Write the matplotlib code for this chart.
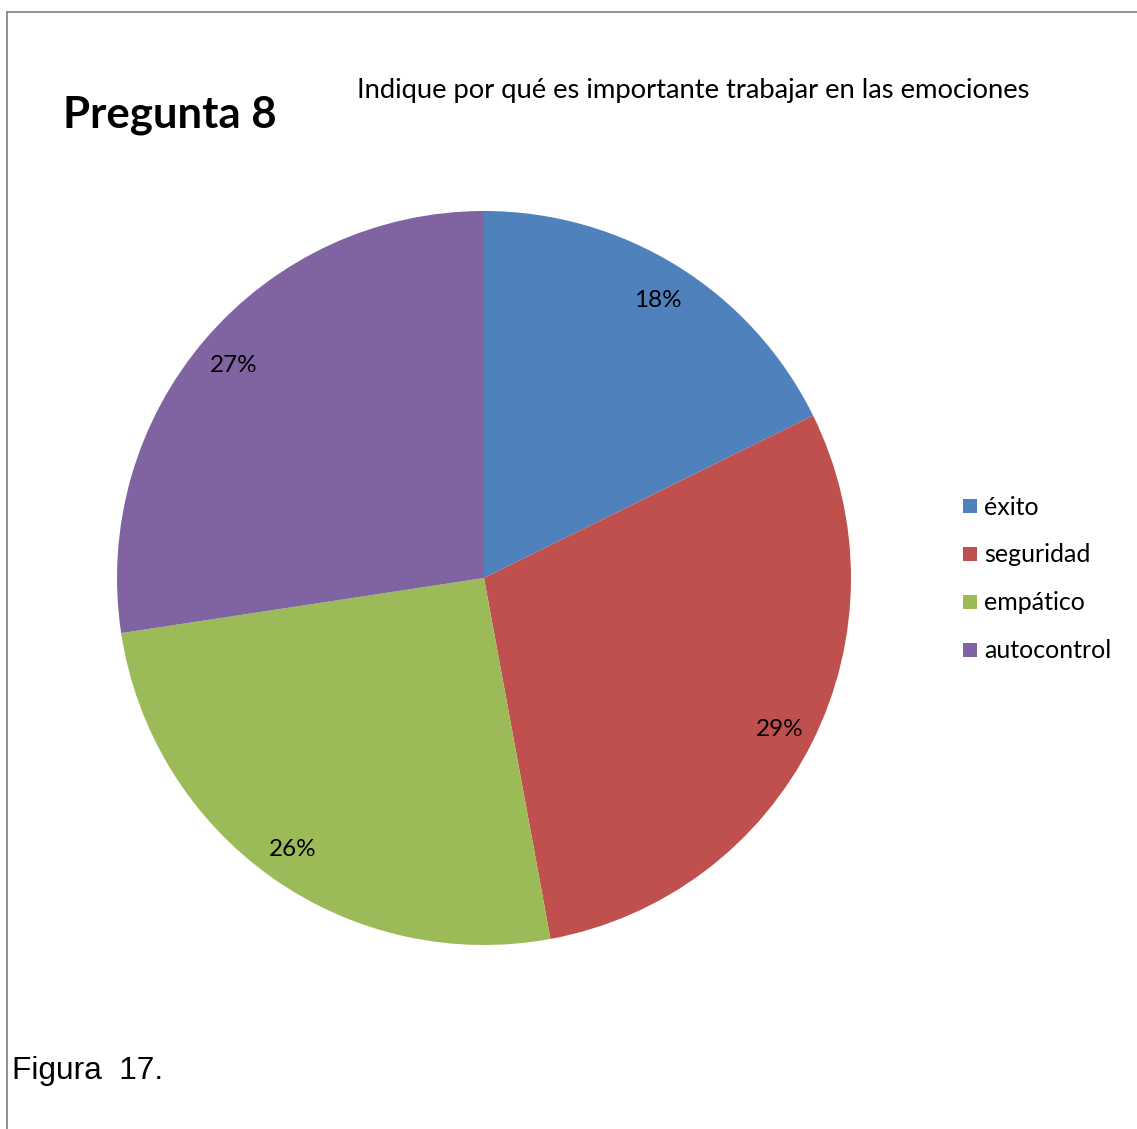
import matplotlib
matplotlib.use("Agg")
import matplotlib.pyplot as plt
import numpy as np
from matplotlib.lines import Line2D
from matplotlib.patches import Rectangle

categories = ["éxito", "seguridad", "empático", "autocontrol"]
values = [17.7, 29.4, 25.5, 27.4]
labels_pct = ["18%", "29%", "26%", "27%"]
colors = ["#4F81BD", "#C0504D", "#9BBB59", "#8064A2"]

W, H = 1137, 1129
FONT = ["Lato", "DejaVu Sans"]
fig = plt.figure(figsize=(W / 100, H / 100), dpi=100)
fig.patch.set_facecolor("white")

# chart border (only left and top visible)
fig.add_artist(Line2D([7 / W, 7 / W], [0, 1 - 12 / H], color="#7f7f7f", lw=1.2))
fig.add_artist(Line2D([7 / W, 1], [1 - 12 / H, 1 - 12 / H], color="#7f7f7f", lw=1.2))

cx, cy, r = 484, H - 578, 367
ax = fig.add_axes([(cx - r) / W, (cy - r) / H, 2 * r / W, 2 * r / H])
ax.pie(values, colors=colors, startangle=90, counterclock=False,
       radius=1.0, wedgeprops=dict(linewidth=0))
ax.set_xlim(-1, 1)
ax.set_ylim(-1, 1)
ax.set_aspect("equal")
ax.axis("off")

total = sum(values)
start = 90.0
for v, lab in zip(values, labels_pct):
    ang = start - v / total * 360 / 2
    start -= v / total * 360
    ax.text(0.9 * np.cos(np.radians(ang)), 0.9 * np.sin(np.radians(ang)) - 0.008, lab,
            ha="center", va="center", fontsize=17.5, family=FONT)

fig.text(63 / W, 1 - 115 / H, "Pregunta 8", fontsize=31.5, fontweight="bold",
         family=FONT, ha="left", va="center")
fig.text(357 / W, 1 - 90.5 / H, "Indique por qué es importante trabajar en las emociones",
         fontsize=19.7, family=FONT, ha="left", va="center")
fig.text(12 / W, 1 - 1071.5 / H, "Figura  17.", fontsize=22.8,
         family=["Liberation Sans", "DejaVu Sans"], ha="left", va="center")

# legend
for i, (cat, col) in enumerate(zip(categories, colors)):
    ypix = 506 + 48 * i
    fig.add_artist(Rectangle((963 / W, 1 - (ypix + 7) / H), 14 / W, 14 / H,
                             facecolor=col, edgecolor="none", transform=fig.transFigure))
    fig.text(984 / W, 1 - (ypix + 1) / H, cat, fontsize=18, family=FONT,
             ha="left", va="center")

fig.savefig("out.png", dpi=100)
